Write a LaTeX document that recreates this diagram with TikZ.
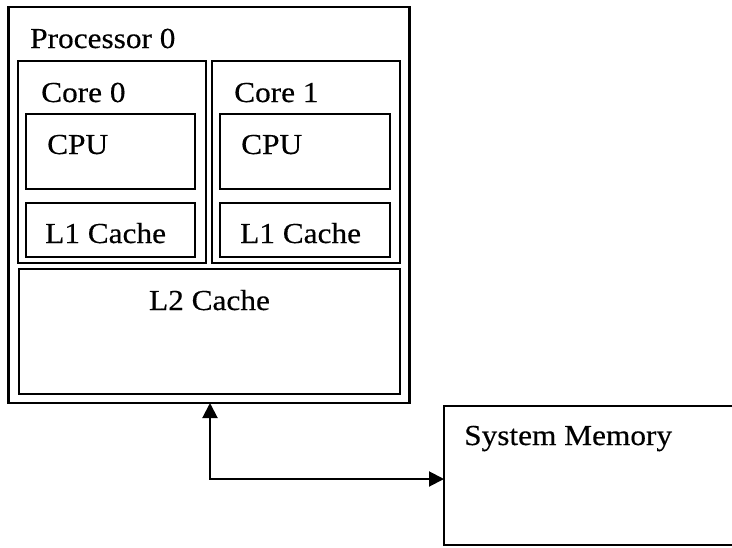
\documentclass[tikz,border=0pt]{standalone}
\usepackage{fontspec}
\setmainfont{Liberation Serif}[FakeStretch=1.08,FakeBold=0.4]
\usetikzlibrary{arrows.meta,positioning}
\begin{document}
\begin{tikzpicture}[x=1pt,y=-1pt,
  box/.style={draw, line width=2.2pt, anchor=north west, inner sep=0pt, outer sep=0pt},
  lbl/.style={anchor=base west, inner sep=0pt, font=\fontsize{29}{31}\selectfont},
  arr/.style={line width=2pt, {Triangle[length=15pt,width=15pt]}-{Triangle[length=15pt,width=15pt]}}]
\clip (0,0) rectangle (732,547);
\fill[white] (0,0) rectangle (732,547);
% boxes
\node[box, minimum width=401pt, minimum height=396pt] (proc) at (8.5,7) {};
\node[box, minimum width=188pt, minimum height=202pt] (core0) at (18,61) {};
\node[box, minimum width=188pt, minimum height=202pt] (core1) at (212,61) {};
\node[box, minimum width=169pt, minimum height=75pt] (cpu0) at (26,114) {};
\node[box, minimum width=170pt, minimum height=75pt] (cpu1) at (220,114) {};
\node[box, minimum width=169pt, minimum height=54pt] (l10) at (26,203) {};
\node[box, minimum width=170pt, minimum height=54pt] (l11) at (220,203) {};
\node[box, minimum width=381pt, minimum height=125pt] (l2) at (19,269) {};
\node[box, minimum width=300pt, minimum height=139pt] (mem) at (444,406) {};
% labels
\node[lbl] (tproc) at (30,48) {Processor 0};
\node[lbl] (tcore0) at (41,102) {Core 0};
\node[lbl] (tcore1) at (234,102) {Core 1};
\node[lbl] (tcpu0) at (47,154) {CPU};
\node[lbl] (tcpu1) at (241,154) {CPU};
\node[lbl] (tl10) at (45,243) {L1 Cache};
\node[lbl] (tl11) at (240,243) {L1 Cache};
\node[anchor=base, inner sep=0pt, font=\fontsize{29}{31}\selectfont] (tl2) at (209.5,310) {L2 Cache};
\node[lbl] (tmem) at (464,445) {System Memory};
% connector
\coordinate (bend) at (210,479);
\draw[arr] (proc.south -| bend) -- (bend) -- (bend -| mem.west);
\end{tikzpicture}
\end{document}
